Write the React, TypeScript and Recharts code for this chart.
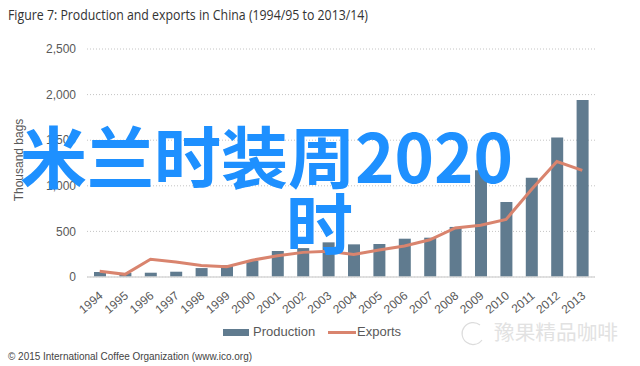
import React from 'react';
import { ComposedChart, Bar, Line, XAxis, YAxis, CartesianGrid } from 'recharts';

const years = ['1994', '1995', '1996', '1997', '1998', '1999', '2000', '2001', '2002', '2003',
  '2004', '2005', '2006', '2007', '2008', '2009', '2010', '2011', '2012', '2013'];
const production = [55, 44, 47, 58, 98, 130, 178, 285, 317, 380, 358, 362, 420, 431, 549, 1170, 822, 1088, 1530, 1940];
const exportsData = [62, 29, 195, 164, 125, 113, 184, 232, 270, 283, 247, 295, 340, 408, 538, 568, 632, 960, 1266, 1170];
const yTicks = [0, 500, 1000, 1500, 2000, 2500];

const BAR = '#607b8f';
const LINE = '#d9846e';
const GREY = '#595959';

const data = years.map((year, i) => ({
  year,
  production: production[i],
  exports: exportsData[i],
}));

function YearTick({ x, y, payload }: any) {
  const ax = x + 4;
  const ay = y + 12;
  return (
    <text x={ax} y={ay} textAnchor="end" fontSize={12} fill={GREY}
      fontFamily="Liberation Sans, Arial, sans-serif"
      transform={`rotate(-40 ${ax} ${ay})`}>
      {payload.value}
    </text>
  );
}

export default function App() {
  return (
    <div style={{ position: 'absolute', left: 0, top: 0, width: 640, height: 366, background: '#fff', overflow: 'hidden' }}>
      <ComposedChart width={640} height={366} data={data}
        margin={{ top: 49, right: 45, left: 27, bottom: 49 }}>
        <CartesianGrid vertical={false} stroke="#c4c4c4" strokeDasharray="1 2" />
        <XAxis dataKey="year" interval={0} height={40} tickLine={false}
          axisLine={{ stroke: '#d9d9d9', strokeWidth: 1.5 }} tick={<YearTick />} />
        <YAxis width={60} domain={[0, 2500]} ticks={yTicks} axisLine={false} tickLine={false}
          tickMargin={5} tickFormatter={(v: number) => v.toLocaleString('en-US')}
          tick={{ fontSize: 12, fill: GREY, fontFamily: 'Liberation Sans, Arial, sans-serif' }} />
        <Bar dataKey="production" fill={BAR} barSize={12} isAnimationActive={false} />
        <Line dataKey="exports" type="linear" stroke={LINE} strokeWidth={3} dot={false} isAnimationActive={false} />
      </ComposedChart>

      {/* legend */}
      <div style={{ position: 'absolute', top: 324, left: 0, width: 640, height: 16, fontFamily: 'Liberation Sans, Arial, sans-serif', fontSize: 13, color: GREY }}>
        <div style={{ position: 'absolute', left: 223, top: 5, width: 26, height: 7, background: BAR }} />
        <div style={{ position: 'absolute', left: 253, top: 0 }}>Production</div>
        <div style={{ position: 'absolute', left: 328, top: 7, width: 28, height: 3, background: LINE }} />
        <div style={{ position: 'absolute', left: 357, top: 0 }}>Exports</div>
      </div>

      <svg width={640} height={366} style={{ position: 'absolute', left: 0, top: 0 }}>
        <text x={8} y={20} fontSize={14} fill="#333" fontFamily="Open Sans, sans-serif"
          textLength={360} lengthAdjust="spacingAndGlyphs">
          Figure 7: Production and exports in China (1994/95 to 2013/14)
        </text>
        <text x={23} y={160} fontSize={12} fill={GREY} textAnchor="middle"
          fontFamily="Liberation Sans, Arial, sans-serif" transform="rotate(-90 23 160)">
          Thousand bags
        </text>
        <text x={8} y={360} fontSize={11} fill="#444" fontFamily="Liberation Sans, Arial, sans-serif"
          textLength={244} lengthAdjust="spacingAndGlyphs">
          © 2015 International Coffee Organization (www.ico.org)
        </text>
        {/* faint watermark */}
        <path d="M 480 325 A 11 11 0 1 0 482 340" fill="none" stroke="#dcdcdc" strokeWidth={1.2} />
        <text x={494} y={340} fontSize={20} fill="#e2e2e2" fontFamily="Noto Sans CJK SC, sans-serif"
          textLength={124} lengthAdjust="spacingAndGlyphs">
          豫果精品咖啡
        </text>
        <text x={20} y={183} fontSize={67} fontWeight={700} fill="#1e90ff" fontFamily="Noto Sans CJK SC, sans-serif">
          米兰时装周2020
        </text>
        <text x={286} y={250} fontSize={67} fontWeight={700} fill="#1e90ff" fontFamily="Noto Sans CJK SC, sans-serif">
          时
        </text>
      </svg>
    </div>
  );
}
